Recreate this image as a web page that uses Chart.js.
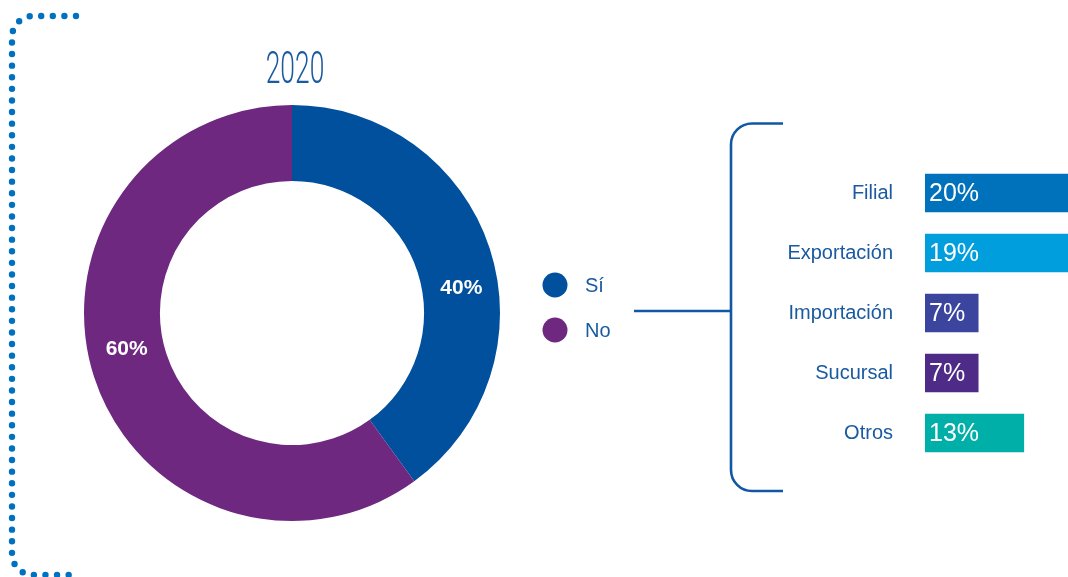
<!DOCTYPE html>
<html>
<head>
<meta charset="utf-8">
<script src="https://cdn.jsdelivr.net/npm/chart.js@4"></script>
<style>
  html, body { margin: 0; padding: 0; background: #ffffff; overflow: hidden; width: 1068px; height: 577px; }
  #donutWrap { position: absolute; left: 0; top: 0; width: 1068px; height: 577px; }
  #barsWrap { position: absolute; left: 740px; top: 163px; width: 375px; height: 300px; }
</style>
</head>
<body>
<div id="donutWrap"><canvas id="donut"></canvas></div>
<div id="barsWrap"><canvas id="bars"></canvas></div>
<script>
const titleText = '2020';
const donutLabels = ['Sí', 'No'];
const donutValues = [40, 60];
const donutColors = ['#00509d', '#6e2880'];
const barCategories = ['Filial', 'Exportación', 'Importación', 'Sucursal', 'Otros'];
const barValues = [20, 19, 7, 7, 13];
const barColors = ['#0071bb', '#009edd', '#3b459d', '#4e2b87', '#00afa7'];
const textBlue = '#1a5aa0';
const lineBlue = '#1257a3';
const dotBlue = '#0070c0';

const decorPlugin = {
  id: 'decor',
  afterDatasetsDraw(chart) {
    const ctx = chart.ctx;
    const meta = chart.getDatasetMeta(0);
    ctx.save();
    ctx.fillStyle = '#ffffff';
    ctx.font = 'bold 21px "Liberation Sans", Arial, sans-serif';
    ctx.textAlign = 'center';
    ctx.textBaseline = 'middle';
    meta.data.forEach((arc, i) => {
      const p = arc.getProps(['x', 'y', 'startAngle', 'endAngle', 'innerRadius', 'outerRadius'], true);
      const mid = (p.startAngle + p.endAngle) / 2 + 0.135;
      const r = (p.innerRadius + p.outerRadius) / 2;
      ctx.fillText(donutValues[i] + '%', p.x + r * Math.cos(mid) + 2, p.y + r * Math.sin(mid) + 6);
    });
    ctx.restore();
  },
  afterDraw(chart) {
    const ctx = chart.ctx;
    const area = chart.chartArea;
    const cx = (area.left + area.right) / 2;
    // title (condensed)
    ctx.save();
    ctx.fillStyle = textBlue;
    ctx.font = '300 44px Roboto, "Liberation Sans", sans-serif';
    ctx.textAlign = 'center';
    ctx.textBaseline = 'alphabetic';
    ctx.translate(cx + 3, 83);
    ctx.scale(0.6, 1);
    ctx.fillText(titleText, 0, 0);
    ctx.restore();

    // dotted bracket on left
    ctx.save();
    ctx.strokeStyle = dotBlue;
    ctx.lineWidth = 6.4;
    ctx.lineCap = 'round';
    ctx.setLineDash([0, 11.6]);
    ctx.beginPath();
    ctx.moveTo(76, 16);
    ctx.lineTo(33, 16);
    ctx.arcTo(12, 16, 12, 37, 21);
    ctx.lineTo(12, 554);
    ctx.arcTo(12, 575, 33, 575, 21);
    ctx.lineTo(76, 575);
    ctx.stroke();
    ctx.restore();

    // legend
    ctx.save();
    ctx.font = '20px "Liberation Sans", Arial, sans-serif';
    ctx.textAlign = 'left';
    ctx.textBaseline = 'middle';
    donutLabels.forEach((lab, i) => {
      const y = 285 + i * 45;
      ctx.fillStyle = donutColors[i];
      ctx.beginPath();
      ctx.arc(555, y, 12.5, 0, Math.PI * 2);
      ctx.fill();
      ctx.fillStyle = textBlue;
      ctx.fillText(lab, 585, y + 1);
    });
    ctx.restore();

    // connector and right bracket
    ctx.save();
    ctx.strokeStyle = lineBlue;
    ctx.lineWidth = 2.6;
    ctx.beginPath();
    ctx.moveTo(634, 311);
    ctx.lineTo(731, 311);
    ctx.stroke();
    ctx.beginPath();
    ctx.moveTo(783, 123.5);
    ctx.lineTo(752, 123.5);
    ctx.arcTo(731, 123.5, 731, 145, 21);
    ctx.lineTo(731, 470);
    ctx.arcTo(731, 491, 752, 491, 21);
    ctx.lineTo(783, 491);
    ctx.stroke();
    ctx.restore();
  }
};

new Chart(document.getElementById('donut'), {
  type: 'doughnut',
  data: {
    labels: donutLabels,
    datasets: [{
      data: donutValues,
      backgroundColor: donutColors,
      borderWidth: 0,
      hoverOffset: 0
    }]
  },
  options: {
    responsive: true,
    maintainAspectRatio: false,
    animation: false,
    cutout: '63.5%',
    layout: { padding: { left: 84, top: 105, right: 568, bottom: 56 } },
    plugins: { legend: { display: false }, tooltip: { enabled: false }, title: { display: false } },
    events: []
  },
  plugins: [decorPlugin]
});

const barLabelPlugin = {
  id: 'barLabels',
  afterDatasetsDraw(chart) {
    const ctx = chart.ctx;
    const meta = chart.getDatasetMeta(0);
    ctx.save();
    ctx.fillStyle = '#ffffff';
    ctx.font = '25px "Liberation Sans", Arial, sans-serif';
    ctx.textAlign = 'left';
    ctx.textBaseline = 'middle';
    meta.data.forEach((bar, i) => {
      const p = bar.getProps(['x', 'y', 'base'], true);
      ctx.fillText(barValues[i] + '%', p.base + 4, p.y + 1);
    });
    ctx.restore();
  }
};

new Chart(document.getElementById('bars'), {
  type: 'bar',
  data: {
    labels: barCategories,
    datasets: [{
      data: barValues,
      backgroundColor: barColors,
      borderWidth: 0,
      barThickness: 38
    }]
  },
  options: {
    indexAxis: 'y',
    responsive: true,
    maintainAspectRatio: false,
    animation: false,
    layout: { padding: 0 },
    scales: {
      x: { display: false, min: 0, max: 25 },
      y: {
        afterFit(scale) {
          scale.width = 185;
          scale.paddingTop = 0;
          scale.paddingBottom = 0;
        },
        grid: { display: false, drawTicks: false },
        border: { display: false },
        ticks: {
          color: textBlue,
          padding: 32,
          font: { family: '"Liberation Sans", Arial, sans-serif', size: 20 }
        }
      }
    },
    plugins: { legend: { display: false }, tooltip: { enabled: false } },
    events: []
  },
  plugins: [barLabelPlugin]
});
</script>
</body>
</html>
